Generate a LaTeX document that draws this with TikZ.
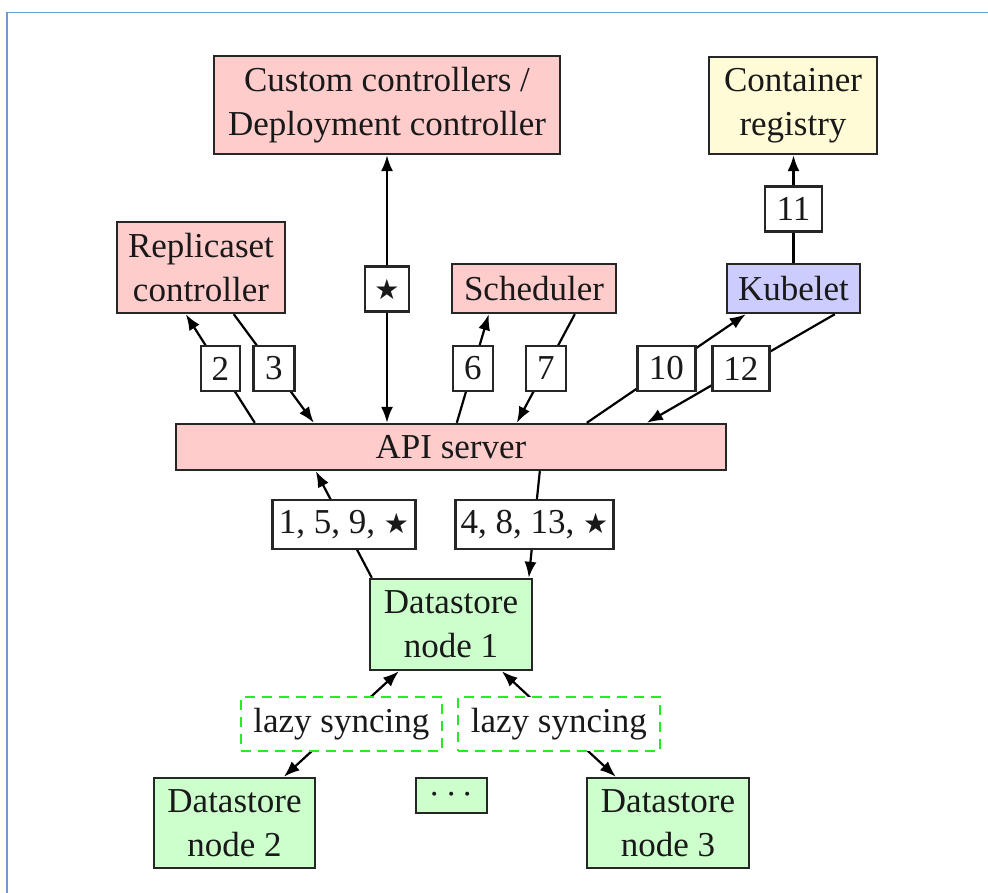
\documentclass[tikz,border=0pt]{standalone}
\usepackage{fontspec}
\usepackage{graphicx}
\setmainfont{Liberation Serif}
\newfontfamily\symbolfont{DejaVu Sans}
\usetikzlibrary{arrows.meta}

\definecolor{ctrlpink}{HTML}{FFCCCC}
\definecolor{regyellow}{HTML}{FFFBD6}
\definecolor{kubeblue}{HTML}{CCCCFF}
\definecolor{storegreen}{HTML}{CCFFCC}
\definecolor{lazygreen}{HTML}{22EE22}
\definecolor{frameblue}{HTML}{6C9BD6}

% filled star and centred dots, sized to suit the text
\newcommand{\bigstar}{{\symbolfont\fontsize{28}{28}\selectfont ★}}
\newcommand{\bigdots}{\scalebox{1.5}{$\cdots$}}

\begin{document}
\begin{tikzpicture}[x=1pt,y=-1pt,
  every node/.style={font=\fontsize{35}{44}\selectfont, text=black!90},
  box/.style={draw=black!85, line width=2.4pt, inner sep=0pt, align=center},
  lbl/.style={draw=black!85, fill=white, line width=2.4pt, inner sep=0pt,
              minimum height=45pt, minimum width=#1},
  lazy/.style={draw=lazygreen, dashed, dash pattern=on 10pt off 7pt, fill=white,
               line width=2.4pt, inner sep=0pt, minimum width=201pt, minimum height=54pt},
  conn/.style={line width=2.2pt, black},
  tip/.style={conn, -{Latex[length=16pt,width=12pt]}},
  tipboth/.style={conn, {Latex[length=16pt,width=12pt]}-{Latex[length=16pt,width=12pt]}}
]
\useasboundingbox (0,0) rectangle (988,893);
% page frame
\draw[frameblue, line width=1.6pt] (7,893) -- (7,12.5) -- (988,12.5);

% control plane components
\node[box, fill=ctrlpink, minimum width=346pt, minimum height=98pt] (cc) at (387,105)
  {Custom controllers /\\Deployment controller};
\node[box, fill=regyellow, minimum width=168pt, minimum height=97pt] (reg) at (793,105.5)
  {Container\\registry};
\node[box, fill=ctrlpink, minimum width=168pt, minimum height=91pt] (rs) at (201,267.5)
  {Replicaset\\controller};
\node[box, fill=ctrlpink, minimum width=164pt, minimum height=49pt] (sched) at (534,288.5)
  {Scheduler};
\node[box, fill=kubeblue, minimum width=133pt, minimum height=49pt] (kub) at (793.5,288.5)
  {Kubelet};
\node[box, fill=ctrlpink, minimum width=550pt, minimum height=46pt] (api) at (451,447)
  {API server};

% datastore
\node[box, fill=storegreen, minimum width=162pt, minimum height=91pt] (ds1) at (451,624.5)
  {Datastore\\node 1};
\node[box, fill=storegreen, minimum width=161pt, minimum height=90pt] (ds2) at (234.5,823)
  {Datastore\\node 2};
\node[box, fill=storegreen, minimum width=71pt, minimum height=35pt] (dots) at (451.5,795.5)
  {\bigdots};
\node[box, fill=storegreen, minimum width=162pt, minimum height=90pt] (ds3) at (668,823)
  {Datastore\\node 3};

% controllers <-> API server
\draw[tipboth] (cc.south) -- node[lbl=44pt] {\bigstar} (cc.south |- api.north);
\draw[tip] ([xshift=80pt]api.north west) -- node[lbl=39pt] {2} ([xshift=70pt]rs.south west);
\draw[tip] ([xshift=118pt]rs.south west) -- node[lbl=41pt] {3} ([xshift=139pt]api.north west);
\draw[tip] ([xshift=282pt]api.north west) -- node[lbl=40pt] {6} ([xshift=38pt]sched.south west);
\draw[tip] ([xshift=124pt]sched.south west) -- node[lbl=40pt] {7} ([xshift=342pt]api.north west);
\draw[tip] ([xshift=412pt]api.north west) -- node[lbl=58pt] {10} ([xshift=20pt]kub.south west);
\draw[tip] ([xshift=109pt]kub.south west) -- node[lbl=57pt] {12} ([xshift=472pt]api.north west);
\draw[tip] (kub.north) -- node[lbl=57pt] {11} (kub.north |- reg.south);

% API server <-> datastore
\draw[tip] ([xshift=3pt]ds1.north west) -- node[lbl=143pt, minimum height=49pt] {1, 5, 9, \bigstar}
  ([xshift=141pt]api.south west);
\draw[tip] ([xshift=365pt]api.south west) -- node[lbl=158pt, minimum height=49pt] {4, 8, 13, \bigstar}
  ([xshift=160pt]ds1.north west);

% replication between datastore nodes
\draw[tipboth] ([xshift=30pt]ds1.south west) -- node[lazy] {lazy syncing} ([xshift=131pt]ds2.north west);
\draw[tipboth] ([xshift=133pt]ds1.south west) -- node[lazy, minimum width=202pt] {lazy syncing} ([xshift=30pt]ds3.north west);
\end{tikzpicture}
\end{document}
